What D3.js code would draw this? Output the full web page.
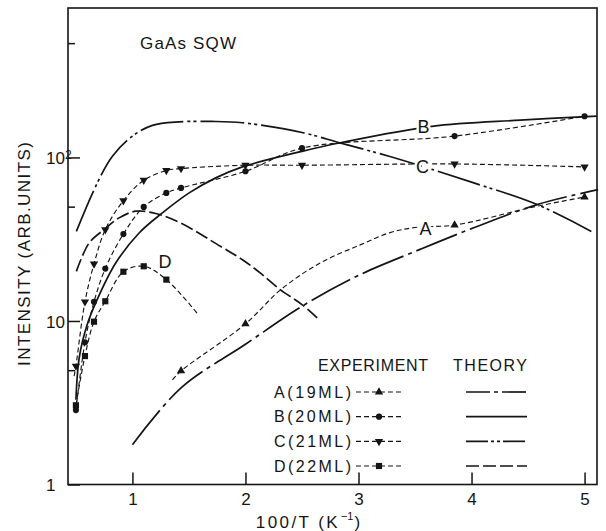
<!DOCTYPE html>
<html>
<head>
<meta charset="utf-8">
<script src="https://cdn.jsdelivr.net/npm/d3@7"></script>
<style>
  body { margin: 0; background: #fff; }
  svg { display: block; }
  text { font-family: "Liberation Sans", Arial, sans-serif; fill: #151515; }
</style>
</head>
<body>
<svg id="chart" width="606" height="531"></svg>
<script>
// ---- Measured PL intensity (arb. units) vs 100/T (K^-1) ----
const expA_x = [1.43, 2.0, 3.85, 5.0];
const expA_y = [4.95, 9.6, 38.6, 57.3];

const expB_x = [0.5, 0.58, 0.66, 0.76, 0.92, 1.1, 1.3, 1.43, 2.0, 2.5, 3.85, 5.0];
const expB_y = [2.85, 7.4, 13.1, 20.9, 34.0, 49.8, 60.7, 65.1, 82.3, 114, 135, 178.6];

const expC_x = [0.5, 0.58, 0.66, 0.76, 0.92, 1.1, 1.3, 1.43, 2.0, 2.5, 3.85, 5.0];
const expC_y = [5.3, 13.1, 22.3, 36.2, 54.4, 72.5, 83.2, 85.5, 89.6, 89.6, 91.2, 87.5];

const expD_x = [0.5, 0.58, 0.66, 0.76, 0.92, 1.1, 1.3];
const expD_y = [3.05, 6.1, 9.9, 13.2, 20.0, 21.6, 17.9];

// hand-drawn guide curves through the measured points
const guideA_x = [1.354, 1.43, 2.0, 2.31, 2.66, 3.02, 3.28, 3.5, 3.85, 4.55, 5.0];
const guideA_y = [4.37, 4.95, 9.6, 15.5, 22.6, 29.3, 34.7, 37.3, 38.6, 49.8, 57.3];
const guideB_x = expB_x;
const guideB_y = expB_y;
const guideC_x = [0.484].concat(expC_x);
const guideC_y = [4.6].concat(expC_y);
const guideD_x = expD_x.concat([1.575]);
const guideD_y = expD_y.concat([11.1]);

// ---- Calculated curves ----
const theoA_x = [1.0, 1.43, 2.0, 2.5, 3.0, 3.55, 4.0, 4.58, 5.12];
const theoA_y = [1.75, 3.9, 7.2, 12.3, 19.0, 27.5, 36.7, 51.5, 63.6];

const theoB_x = [0.5, 0.53, 0.6, 0.675, 0.852, 1.059, 1.265, 1.502, 1.737, 1.973, 2.5, 2.84, 3.65, 4.43, 5.11];
const theoB_y = [3.3, 6.0, 9.5, 12.9, 22.6, 34.5, 45.8, 60.7, 75, 87.6, 109, 123, 155, 169, 179];

const theoC_x = [0.504, 0.675, 0.823, 1.0, 1.177, 1.413, 1.7, 1.973, 2.51, 2.836, 3.27, 3.57, 4.0, 4.58, 5.06];
const theoC_y = [35.3, 66.6, 101.7, 135, 157, 165, 166, 163, 141.5, 122.8, 101.7, 88, 70.6, 51.5, 35.3];

const theoD_x = [0.504, 0.617, 0.749, 0.882, 1.03, 1.206, 1.425, 1.779, 1.973, 2.133, 2.31, 2.5, 2.65];
const theoD_y = [20.1, 30, 36.2, 42.7, 46.9, 45.4, 39.8, 28.6, 23.7, 19.6, 15.5, 12.6, 10.2];

// ---- Series names, curve tags and where the tags sit (data units) ----
const seriesKeys   = ["A", "B", "C", "D"];
const seriesNames  = ["A(19ML)", "B(20ML)", "C(21ML)", "D(22ML)"];
const tagX = [3.593, 3.575, 3.566, 1.289];
const tagY = [37.0, 153.7, 87.5, 23.0];

// ---- Axis ticks ----
const xTicks = [1, 2, 3, 4, 5];
const yMajor = [1, 10, 100];
const yMinor = [5, 50, 500];
const yLabelBase = ["1", "10", "10"];
const yLabelExp  = ["", "", "2"];

const title = "GaAs  SQW";
const xTitleParts = ["100/T  (K", "\u22121", ")"];
const yTitle = "INTENSITY  (ARB.UNITS)";

// ---------------------------------------------------------------
const svg = d3.select("#chart");
const L = 68, R = 597, T = 8, B = 484.5;

const x = d3.scaleLinear().domain([0.43, 5.11]).range([L, R]);
const y = d3.scaleLog().domain([1, 820]).range([B, T]);

const zip = (xs, ys) => xs.map((v, i) => [v, ys[i]]);
const line = d3.line().x(d => x(d[0])).y(d => y(d[1])).curve(d3.curveCatmullRom.alpha(0.5));

const ink = "#151515";
const styles = {
  A: { theoDash: "44,5,4,5",     marker: d3.symbolTriangle, rot: 0 },
  B: { theoDash: null,           marker: d3.symbolCircle,   rot: 0 },
  C: { theoDash: "44,4,3,3,3,4", marker: d3.symbolTriangle, rot: 180 },
  D: { theoDash: "13,4",         marker: d3.symbolSquare,   rot: 0 }
};
const legendTheoDash = { A: "24,4,4,4", B: null, C: "22,3,3,3,3,3", D: "13,4" };
const markerSize = { A: 30, B: 30, C: 30, D: 38 };
const expDash = "5,3";

const theo = {
  A: zip(theoA_x, theoA_y), B: zip(theoB_x, theoB_y),
  C: zip(theoC_x, theoC_y), D: zip(theoD_x, theoD_y)
};
const guides = {
  A: zip(guideA_x, guideA_y), B: zip(guideB_x, guideB_y),
  C: zip(guideC_x, guideC_y), D: zip(guideD_x, guideD_y)
};
const points = {
  A: zip(expA_x, expA_y), B: zip(expB_x, expB_y),
  C: zip(expC_x, expC_y), D: zip(expD_x, expD_y)
};

const plot = svg.append("g");

// calculated curves
seriesKeys.forEach(k => {
  plot.append("path")
    .attr("d", line(theo[k]))
    .attr("fill", "none")
    .attr("stroke", ink)
    .attr("stroke-width", 1.7)
    .attr("stroke-dasharray", styles[k].theoDash);
});

// experimental guide curves
seriesKeys.forEach(k => {
  plot.append("path")
    .attr("d", line(guides[k]))
    .attr("fill", "none")
    .attr("stroke", ink)
    .attr("stroke-width", 1.15)
    .attr("stroke-dasharray", expDash);
});

// experimental points
seriesKeys.forEach(k => {
  const sym = d3.symbol().type(styles[k].marker).size(markerSize[k]);
  plot.append("g").selectAll("path")
    .data(points[k])
    .join("path")
    .attr("d", sym)
    .attr("fill", ink)
    .attr("transform", d => `translate(${x(d[0])},${y(d[1])}) rotate(${styles[k].rot})`);
});

// curve tags, with a white halo that breaks the lines beneath
plot.append("g").selectAll("text")
  .data(seriesKeys)
  .join("text")
  .attr("x", (d, i) => x(tagX[i]))
  .attr("y", (d, i) => y(tagY[i]))
  .attr("dy", "0.36em")
  .attr("text-anchor", "middle")
  .attr("font-size", 18)
  .attr("stroke", "#fff")
  .attr("stroke-width", 5)
  .attr("paint-order", "stroke")
  .text(d => d);

// frame
svg.append("rect")
  .attr("x", L).attr("y", T)
  .attr("width", R - L).attr("height", B - T)
  .attr("fill", "none")
  .attr("stroke", ink)
  .attr("stroke-width", 1.6);

// x axis
const xAxis = d3.axisBottom(x).tickValues(xTicks).tickSize(-12).tickPadding(8).tickFormat(d3.format("d"));
const gx = svg.append("g").attr("transform", `translate(0,${B})`).call(xAxis);
gx.select(".domain").remove();
gx.selectAll(".tick line").attr("stroke", ink).attr("stroke-width", 1.5);
gx.selectAll(".tick text").attr("font-size", 17).attr("font-family", null).attr("fill", ink);

// y axis (log): long ticks at decades, short ticks at 5 x decade
const yAxis = d3.axisLeft(y).tickValues(yMajor.concat(yMinor)).tickSize(-12).tickFormat(() => "");
const gy = svg.append("g").attr("transform", `translate(${L},0)`).call(yAxis);
gy.select(".domain").remove();
gy.selectAll(".tick line")
  .attr("stroke", ink).attr("stroke-width", 1.5)
  .attr("x2", d => yMajor.includes(d) ? 12 : 7);
gy.selectAll(".tick text").remove();
gy.selectAll(".tick").each(function (d) {
  const i = yMajor.indexOf(d);
  if (i < 0) return;
  const t = d3.select(this).append("text")
    .attr("x", -22).attr("dy", "0.36em")
    .attr("text-anchor", "start")
    .attr("font-size", 17)
    .attr("fill", ink);
  t.append("tspan").text(yLabelBase[i]);
  if (yLabelExp[i]) {
    t.append("tspan").attr("dy", "-0.45em").attr("font-size", 12).text(yLabelExp[i]);
  }
});

// x-axis title with superscript
const xt = svg.append("text")
  .attr("x", 308).attr("y", 528)
  .attr("text-anchor", "middle")
  .attr("font-size", 17);
xt.append("tspan").attr("letter-spacing", 2.4).text(xTitleParts[0]);
xt.append("tspan").attr("font-size", 11).attr("dy", -8).attr("dx", 1).text(xTitleParts[1]);
xt.append("tspan").attr("dy", 8).attr("dx", 1).text(xTitleParts[2]);

// y-axis title
svg.append("text")
  .attr("transform", "translate(30,254) rotate(-90)")
  .attr("text-anchor", "middle")
  .attr("font-size", 17)
  .attr("textLength", 224).attr("lengthAdjust", "spacing")
  .text(yTitle);

// inset title
svg.append("text")
  .attr("x", 140).attr("y", 49)
  .attr("font-size", 17)
  .attr("textLength", 96).attr("lengthAdjust", "spacing")
  .text(title);

// legend
const legend = svg.append("g");
legend.append("text").attr("x", 318).attr("y", 371).attr("font-size", 16)
  .attr("textLength", 110).attr("lengthAdjust", "spacing").text("EXPERIMENT");
legend.append("text").attr("x", 453).attr("y", 371).attr("font-size", 16)
  .attr("textLength", 74).attr("lengthAdjust", "spacing").text("THEORY");

const rowY = d3.scalePoint().domain(seriesKeys).range([392, 466]);
seriesKeys.forEach((k, i) => {
  const cy = rowY(k);
  legend.append("text")
    .attr("x", 351).attr("y", cy).attr("dy", "0.36em")
    .attr("text-anchor", "end").attr("font-size", 16)
    .attr("textLength", 77).attr("lengthAdjust", "spacing")
    .text(seriesNames[i]);
  legend.append("line")
    .attr("x1", 356).attr("x2", 402).attr("y1", cy).attr("y2", cy)
    .attr("stroke", ink).attr("stroke-width", 1.15).attr("stroke-dasharray", expDash);
  legend.append("path")
    .attr("d", d3.symbol().type(styles[k].marker).size(markerSize[k])())
    .attr("fill", ink)
    .attr("transform", `translate(379,${cy}) rotate(${styles[k].rot})`);
  legend.append("line")
    .attr("x1", 466).attr("x2", 527).attr("y1", cy).attr("y2", cy)
    .attr("stroke", ink).attr("stroke-width", 1.7)
    .attr("stroke-dasharray", legendTheoDash[k]);
});
</script>
</body>
</html>
